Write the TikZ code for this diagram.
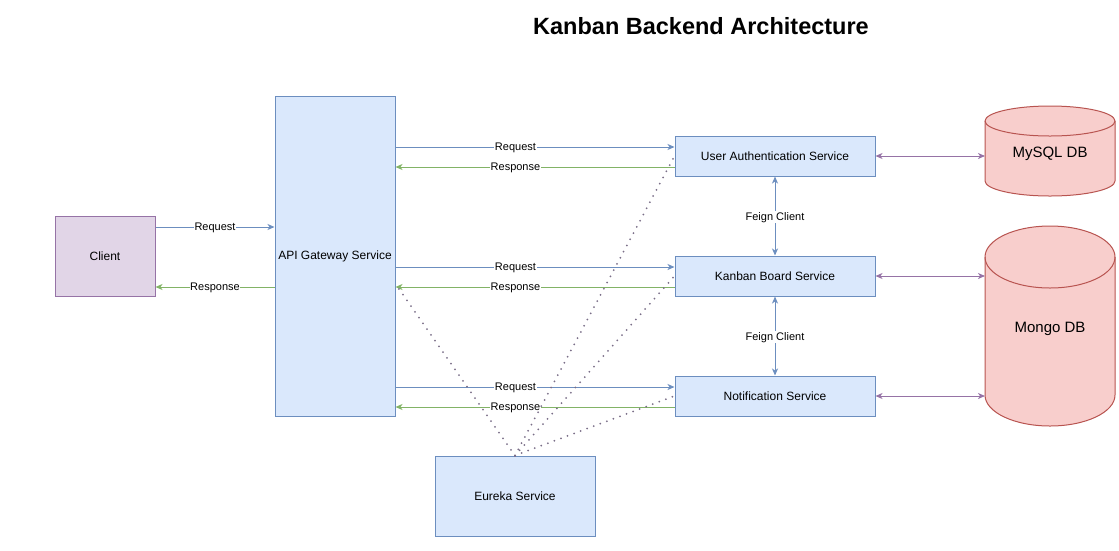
\documentclass[tikz,border=0pt]{standalone}
\usepackage{fontspec}
\setmainfont{Liberation Sans}
\usetikzlibrary{arrows.meta}
\definecolor{svcFill}{HTML}{DAE8FC}
\definecolor{svcLine}{HTML}{6C8EBF}
\definecolor{cliFill}{HTML}{E1D5E7}
\definecolor{cliLine}{HTML}{9673A6}
\definecolor{dbFill}{HTML}{F8CECC}
\definecolor{dbLine}{HTML}{B85450}
\definecolor{respLine}{HTML}{82B366}
\definecolor{regLine}{HTML}{7A6E88}
\pgfdeclarelayer{background}
\pgfsetlayers{background,main}
\def\reqShift{9pt}
\def\respShift{-11pt}
\tikzset{
  svc/.style={draw=svcLine,fill=svcFill,line width=1pt,inner sep=2pt,
    font=\fontsize{12}{14}\selectfont},
  cli/.style={svc,draw=cliLine,fill=cliFill},
  dbnode/.style={inner sep=0pt,outer sep=0pt,minimum width=130pt,
    text height=15pt,text depth=2pt,font=\fontsize{15}{17}\selectfont},
  lbl/.style={fill=white,inner sep=0.6pt,yshift=-1.2pt,font=\fontsize{11}{12}\selectfont},
  req/.style={draw=svcLine,line width=1pt,-{Stealth[length=7pt,width=6pt,inset=2pt]}},
  resp/.style={draw=respLine,line width=1pt,-{Stealth[length=7pt,width=6pt,inset=2pt]}},
  feign/.style={draw=svcLine,line width=1pt,
    {Stealth[length=7pt,width=6pt,inset=2pt]}-{Stealth[length=7pt,width=6pt,inset=2pt]}},
  dblink/.style={draw=cliLine,line width=1pt,
    {Stealth[length=7pt,width=6pt,inset=2pt]}-{Stealth[length=7pt,width=6pt,inset=2pt]}},
  reg/.style={draw=regLine,line width=2pt,line cap=round,dash pattern=on 0pt off 7pt}
}
\newcommand\dbcyl[2]{%
  \path[draw=dbLine,fill=dbFill,line width=1pt]
    ([yshift=-#2]#1.north west) -- ([yshift=#2]#1.south west)
    arc[start angle=180,end angle=360,x radius=65pt,y radius=#2]
    -- ([yshift=-#2]#1.north east)
    arc[start angle=0,end angle=180,x radius=65pt,y radius=#2] -- cycle;
  \draw[dbLine,line width=1pt] ([yshift=-#2]#1.north west)
    arc[start angle=180,end angle=360,x radius=65pt,y radius=#2];
}

\begin{document}
\begin{tikzpicture}[x=1pt,y=-1pt]
    \useasboundingbox (0,0) rectangle (1119,550);

    \node[font=\bfseries\fontsize{23.5}{26}\selectfont] (title) at (701,26) {Kanban Backend Architecture};

    \node[cli,minimum width=100pt,minimum height=80pt] (client) at (105,256) {Client};
    \node[svc,minimum width=120pt,minimum height=320pt] (gateway) at (335,256) {API Gateway Service};
    \node[svc,minimum width=200pt,minimum height=40pt] (auth) at (775,156) {User Authentication Service};
    \node[svc,minimum width=200pt,minimum height=40pt] (board) at (775,276) {Kanban Board Service};
    \node[svc,minimum width=200pt,minimum height=40pt] (notify) at (775,396) {Notification Service};
    \node[svc,minimum width=160pt,minimum height=80pt] (eureka) at (515,496) {Eureka Service};
    \node[dbnode,minimum height=90pt] (mysql) at (1050,151) {MySQL DB};
    \node[dbnode,minimum height=200pt] (mongo) at (1050,326) {Mongo DB};

    \begin{pgfonlayer}{background}
      \dbcyl{mysql}{15pt}
      \dbcyl{mongo}{31pt}
    \end{pgfonlayer}

    \coordinate (clientReq) at ([yshift=29pt]client.east);
    \coordinate (clientResp) at ([yshift=-31pt]client.east);
    \draw[req] (clientReq) -- node[lbl] {Request} (gateway.west |- clientReq);
    \draw[resp] (gateway.west |- clientResp) -- node[lbl] {Response} (clientResp);

    \foreach \svc in {auth,board,notify} {
      \coordinate (\svc Req) at ([yshift=\reqShift]\svc.west);
      \coordinate (\svc Resp) at ([yshift=\respShift]\svc.west);
      \draw[req] (gateway.east |- \svc Req) -- node[lbl,pos=0.43] {Request} (\svc Req);
      \draw[resp] (\svc Resp) -- node[lbl,pos=0.57] {Response} (gateway.east |- \svc Resp);
    }

    \draw[feign] (auth.south) -- node[lbl] {Feign Client} (board.north);
    \draw[feign] (board.south) -- node[lbl] {Feign Client} (notify.north);

    \draw[dblink] (auth.east) -- (mysql.west |- auth.east);
    \draw[dblink] (board.east) -- (mongo.west |- board.east);
    \draw[dblink] (notify.east) -- (mongo.west |- notify.east);

    \coordinate (gatewayReg) at ([yshift=-28pt]gateway.east);
    \draw[reg] (eureka.north) -- (gatewayReg);
    \draw[reg] (eureka.north) -- (auth.west);
    \draw[reg] (eureka.north) -- (board.west);
    \draw[reg] (eureka.north) -- (notify.west);
\end{tikzpicture}
\end{document}
